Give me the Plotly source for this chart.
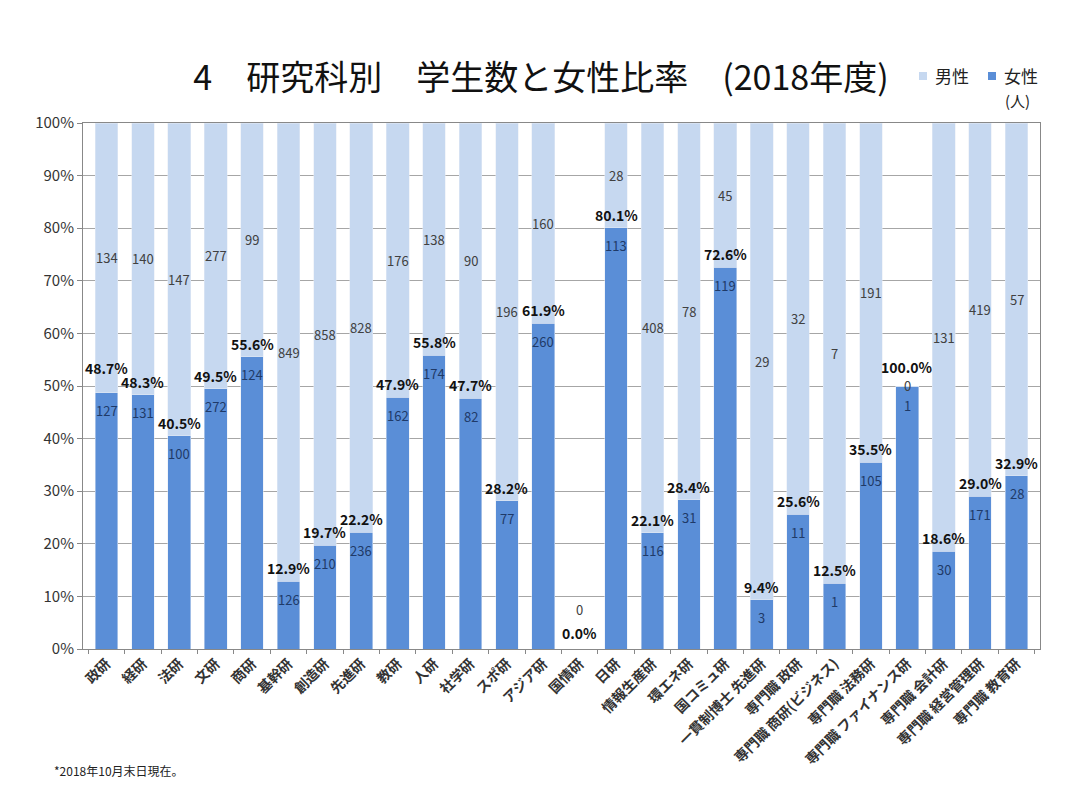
import plotly.graph_objects as go

categories = ["政研", "経研", "法研", "文研", "商研", "基幹研", "創造研", "先進研", "教研", "人研",
              "社学研", "スポ研", "アジア研", "国情研", "日研", "情報生産研", "環エネ研", "国コミュ研",
              "一貫制博士 先進研", "専門職 政研", "専門職 商研(ビジネス)", "専門職 法務研",
              "専門職 ファイナンス研", "専門職 会計研", "専門職 経営管理研", "専門職 教育研"]
female_counts = [127, 131, 100, 272, 124, 126, 210, 236, 162, 174, 82, 77, 260, 0, 113, 116, 31, 119,
                 3, 11, 1, 105, 1, 30, 171, 28]
male_counts = [134, 140, 147, 277, 99, 849, 858, 828, 176, 138, 90, 196, 160, 0, 28, 408, 78, 45,
               29, 32, 7, 191, 0, 131, 419, 57]
female_ratio_labels = ["48.7%", "48.3%", "40.5%", "49.5%", "55.6%", "12.9%", "19.7%", "22.2%", "47.9%",
                       "55.8%", "47.7%", "28.2%", "61.9%", "0.0%", "80.1%", "22.1%", "28.4%", "72.6%",
                       "9.4%", "25.6%", "12.5%", "35.5%", "100.0%", "18.6%", "29.0%", "32.9%"]
# bar heights (percent of column) as drawn in the picture
female_bar = [48.7, 48.3, 40.5, 49.5, 55.6, 12.9, 19.7, 22.2, 47.9, 55.8, 47.7, 28.2, 61.9, 0.0, 80.1,
              22.1, 28.4, 72.6, 9.4, 25.6, 12.5, 35.5, 50.0, 18.6, 29.0, 32.9]
male_bar = [0 if m == 0 else 100 - f for f, m in zip(female_bar, male_counts)]

FONT = "Noto Sans CJK JP"
FEMALE_COLOR = "#5A8ED7"
MALE_COLOR = "#C6D8F0"

# the page body has an 8px margin; work in page pixels and convert
OFF = 8
W, H = 1080 - OFF, 801 - OFF
PL, PR, PT, PB = 83, 1040, 123, 649          # plot area in page pixels
L, R, T, B = PL - OFF, W - (PR - OFF), PT - OFF, H - (PB - OFF)
pw, ph = W - L - R, H - T - B


def px_to_paper(px, py):
    return (px - PL) / pw, (PB - py) / ph


# extra label lifts (pixels) where the original chart moved a label by hand
ratio_label_lift = {"政研": 12, "専門職 ファイナンス研": 6}

fig = go.Figure()
fig.add_trace(go.Bar(x=categories, y=female_bar, name="女性", marker_color=FEMALE_COLOR,
                     hoverinfo="skip", showlegend=False))
fig.add_trace(go.Bar(x=categories, y=male_bar, name="男性", marker_color=MALE_COLOR,
                     hoverinfo="skip", showlegend=False))

annotations = []
for c, fc, mc, lab, fb, mb in zip(categories, female_counts, male_counts, female_ratio_labels,
                                  female_bar, male_bar):
    empty = fb == 0 and mb == 0
    # male count
    annotations.append(dict(x=c, y=fb + mb / 2, xref="x", yref="y", text=str(mc), showarrow=False,
                            yshift=40 if empty else (1 if mb == 0 else 0), yanchor="middle",
                            font=dict(family=FONT, size=13, color="#404040")))
    # female count
    if fb > 0:
        annotations.append(dict(x=c, y=fb, xref="x", yref="y", text=str(fc), showarrow=False,
                                yshift=-19 if mb == 0 else -18, yanchor="middle",
                                font=dict(family=FONT, size=13, color="#1F3A68")))
    # ratio label
    annotations.append(dict(x=c, y=fb, xref="x", yref="y", text="<b>" + lab + "</b>", showarrow=False,
                            yshift=(16 if empty else 13) + ratio_label_lift.get(c, 0), yanchor="middle",
                            font=dict(family=FONT, size=14, color="#111111")))

# legend drawn by hand: small squares + labels
legend_items = [("男性", MALE_COLOR, 919, 933), ("女性", FEMALE_COLOR, 988, 1002)]
shapes = []
for name, col, sx, tx in legend_items:
    x0, y0 = px_to_paper(sx, 80)
    x1, y1 = px_to_paper(sx + 8, 72)
    shapes.append(dict(type="rect", xref="paper", yref="paper", x0=x0, y0=y0, x1=x1, y1=y1,
                       fillcolor=col, line=dict(width=0)))
    ax, ay = px_to_paper(tx, 76)
    annotations.append(dict(x=ax, y=ay, xref="paper", yref="paper", xanchor="left", yanchor="middle",
                            text=name, showarrow=False, font=dict(family=FONT, size=17, color="#222222")))

ux, uy = px_to_paper(1017, 101)
annotations.append(dict(x=ux, y=uy, xref="paper", yref="paper", text="(人)", xanchor="center",
                        yanchor="middle", showarrow=False, font=dict(family=FONT, size=15, color="#222222")))
fx, fy = px_to_paper(52, 770)
annotations.append(dict(x=fx, y=fy, xref="paper", yref="paper", xanchor="left", yanchor="middle",
                        text="*2018年10月末日現在。", showarrow=False,
                        font=dict(family=FONT, size=12, color="#222222")))

fig.update_layout(
    width=W, height=H,
    margin=dict(l=L, r=R, t=T, b=B, autoexpand=False),
    paper_bgcolor="white", plot_bgcolor="white",
    barmode="stack", bargap=0.375,
    font=dict(family=FONT, color="#333333"),
    showlegend=False,
    title=dict(text="4\u3000研究科別\u3000学生数と女性比率\u3000(2018年度)", x=(541 - OFF) / W,
               xref="container", xanchor="center", y=1 - (78 - OFF) / H, yref="container",
               yanchor="middle", font=dict(family=FONT, size=34, color="#111111")),
    annotations=annotations,
    shapes=shapes,
    xaxis=dict(tickangle=-45, tickson="boundaries", ticks="outside", ticklen=4, tickcolor="#888888",
               showline=True, linecolor="#888888", mirror=True,
               tickfont=dict(family=FONT, size=14, color="#333333", weight="bold"), fixedrange=True),
    yaxis=dict(range=[0, 100], dtick=10, ticksuffix="%", ticks="outside", ticklen=5,
               tickcolor="#888888", showline=True, linecolor="#888888", mirror=True,
               showgrid=True, gridcolor="#A6A6A6", gridwidth=1,
               tickfont=dict(family=FONT, size=15, color="#333333"), zeroline=False),
)

fig.write_html("out.html")
